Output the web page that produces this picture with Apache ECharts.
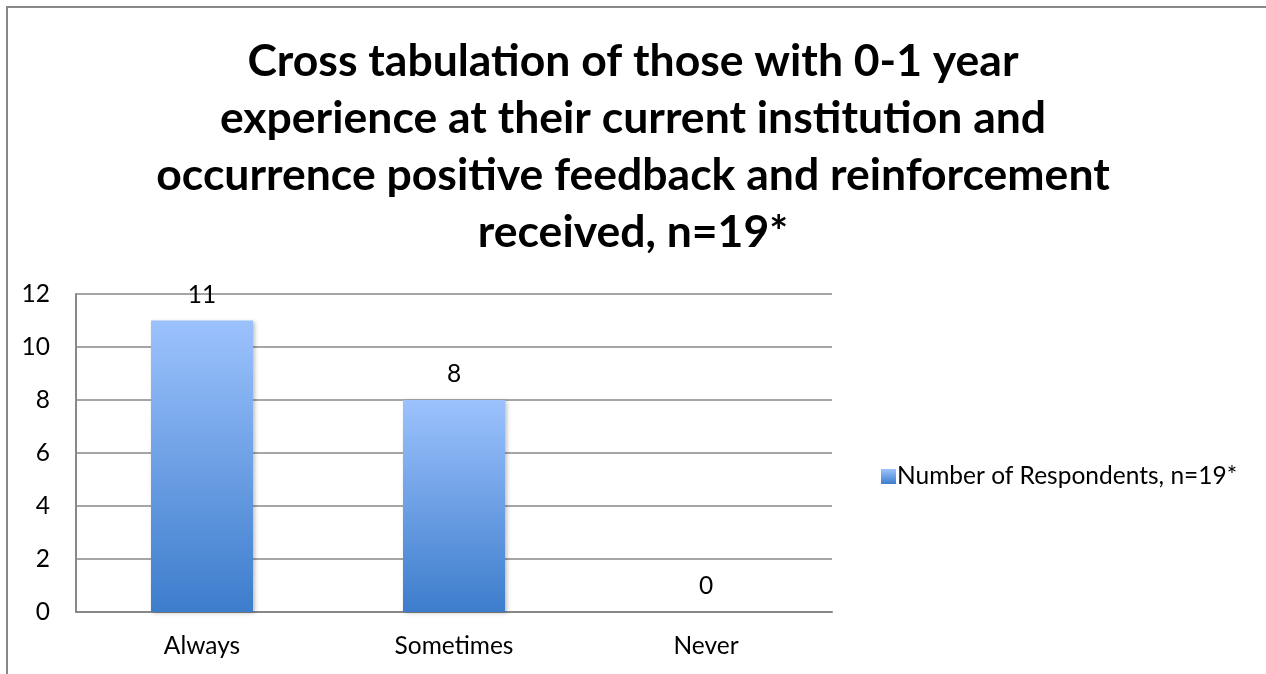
<!DOCTYPE html>
<html>
<head>
<meta charset="utf-8">
<script src="https://cdn.jsdelivr.net/npm/echarts@6/dist/echarts.min.js"></script>
<style>
html,body{margin:0;padding:0;background:#fff;}
#chart{width:1266px;height:674px;}
</style>
</head>
<body>
<div id="chart"></div>
<script>
const categories = ['Always', 'Sometimes', 'Never'];
const respondents = [11, 8, 0];
const seriesName = 'Number of Respondents, n=19*';
const titleLines = [
  'Cross tabulation of those with 0-1 year',
  'experience at their current institution and',
  'occurrence positive feedback and reinforcement',
  'received, n=19*'
];

const FONT = 'Lato, "Open Sans", sans-serif';
const barGrad = new echarts.graphic.LinearGradient(0, 0, 0, 1, [
  {offset: 0, color: '#9cc2fd'},
  {offset: 1, color: '#3d7dcc'}
]);

const chart = echarts.init(document.getElementById('chart'));
chart.setOption({
  animation: false,
  backgroundColor: '#fff',
  title: {
    text: titleLines.join('\n'),
    left: 'center',
    top: 33,
    padding: 0,
    textStyle: {fontFamily: FONT, fontSize: 44.5, fontWeight: 'bold', color: '#000', lineHeight: 57}
  },
  graphic: [{
    type: 'rect',
    shape: {x: 7, y: 7, width: 1400, height: 800},
    style: {fill: 'none', stroke: '#888', lineWidth: 2},
    silent: true
  }],
  legend: {
    orient: 'vertical',
    left: 876,
    top: 459,
    itemWidth: 15,
    itemHeight: 15,
    itemGap: 6,
    icon: 'rect',
    textStyle: {fontFamily: FONT, fontSize: 24.5, color: '#000', padding: [0, 0, 0, -4]},
    data: [seriesName]
  },
  grid: {left: 76, right: 434, top: 294, bottom: 62, containLabel: false},
  xAxis: {
    type: 'category',
    data: categories,
    axisLine: {lineStyle: {color: '#888', width: 2}},
    axisTick: {show: false},
    axisLabel: {fontFamily: FONT, fontSize: 24.5, color: '#000', margin: 22}
  },
  yAxis: {
    type: 'value',
    min: 0, max: 12, interval: 2,
    axisLine: {show: true, lineStyle: {color: '#888', width: 2}},
    axisTick: {show: false},
    splitLine: {lineStyle: {color: '#888', width: 1.5}},
    axisLabel: {fontFamily: FONT, fontSize: 24.5, color: '#000', margin: 26}
  },
  series: [{
    name: seriesName,
    type: 'bar',
    data: respondents,
    barWidth: '40.5%',
    itemStyle: {color: barGrad, shadowColor: 'rgba(0,0,0,0.25)', shadowBlur: 4, shadowOffsetX: 2, shadowOffsetY: 1},
    label: {show: true, position: 'top', distance: 13, fontFamily: FONT, fontSize: 24.5, color: '#000'}
  }]
});
</script>
</body>
</html>
